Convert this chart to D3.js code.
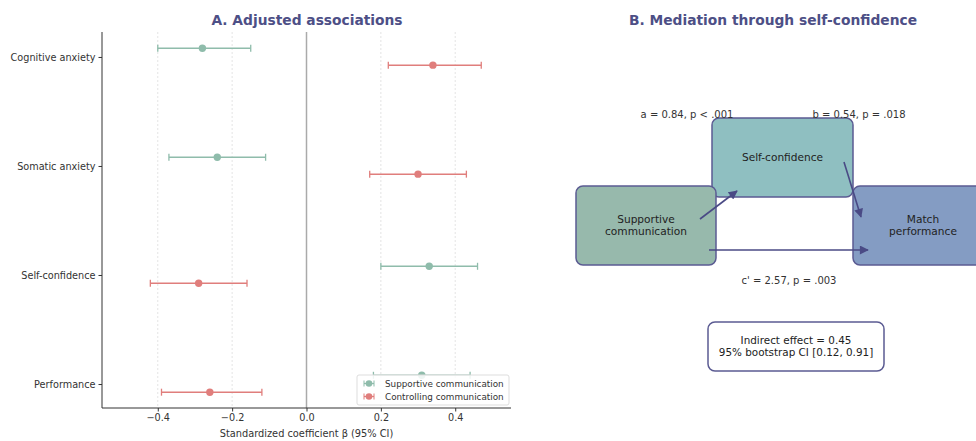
<!DOCTYPE html>
<html lang="en">
<head>
<meta charset="UTF-8">
<title>Adjusted associations and mediation</title>
<style>
  body { margin: 0; background: #fff; }
  svg { font-family: "DejaVu Sans", sans-serif; }
  .axis path, .axis line { stroke: #333; }
  .axis text { font-family: "DejaVu Sans", sans-serif; font-size: 9.7px; fill: #333; }
</style>
</head>
<body>
<svg id="chart"></svg>
<script src="https://cdn.jsdelivr.net/npm/d3@7"></script>
<script>
// data
var outcomes = ["Cognitive anxiety", "Somatic anxiety", "Self-confidence", "Performance"];
var seriesNames = ["Supportive communication", "Controlling communication"];
var supportiveBeta = [-0.28, -0.24, 0.33, 0.31];
var supportiveLow  = [-0.40, -0.37, 0.20, 0.18];
var supportiveHigh = [-0.15, -0.11, 0.46, 0.44];
var controllingBeta = [0.34, 0.30, -0.29, -0.26];
var controllingLow  = [0.22, 0.17, -0.42, -0.39];
var controllingHigh = [0.47, 0.43, -0.16, -0.12];
var xTicks = [-0.4, -0.2, 0.0, 0.2, 0.4];

var pathLabels = ["a = 0.84, p < .001", "b = 0.54, p = .018", "c' = 2.57, p = .003"];
var indirectLines = ["Indirect effect = 0.45", "95% bootstrap CI [0.12, 0.91]"];

var w = 976, h = 441;
var svg = d3.select("#chart").attr("width", w).attr("height", h);

var colors = ["#8fbcab", "#e07e7c"];
var navy = "#4d4f86";

// ---------- Panel A ----------
var padA = {left: 102, right: 511, top: 32, bottom: 408};
var xScale = d3.scaleLinear().domain([-0.55, 0.55]).range([padA.left, padA.right]);
var yScale = d3.scaleLinear().domain([-0.229, 3.22]).range([padA.top, padA.bottom]);
var offset = [-0.08, 0.075];

var gA = svg.append("g");

// grid
gA.selectAll("line.grid")
  .data(xTicks.filter(function(t){ return t !== 0; }))
  .enter().append("line")
  .attr("x1", function(d){ return xScale(d); })
  .attr("x2", function(d){ return xScale(d); })
  .attr("y1", padA.top).attr("y2", padA.bottom)
  .attr("stroke", "#ddd").attr("stroke-width", 0.8)
  .attr("stroke-dasharray", "2,2");

// zero line
gA.append("line")
  .attr("x1", xScale(0)).attr("x2", xScale(0))
  .attr("y1", padA.top).attr("y2", padA.bottom)
  .attr("stroke", "#aaa").attr("stroke-width", 1.5);

var series = [
  {beta: supportiveBeta, low: supportiveLow, high: supportiveHigh},
  {beta: controllingBeta, low: controllingLow, high: controllingHigh}
];

series.forEach(function(s, si) {
  var rows = outcomes.map(function(o, i) {
    return {i: i, beta: s.beta[i], low: s.low[i], high: s.high[i]};
  });
  var g = gA.append("g").attr("stroke", colors[si]).attr("fill", colors[si]);
  var yy = function(d){ return yScale(d.i + offset[si]); };
  g.selectAll("line.ci").data(rows).enter().append("line")
    .attr("x1", function(d){ return xScale(d.low); })
    .attr("x2", function(d){ return xScale(d.high); })
    .attr("y1", yy).attr("y2", yy)
    .attr("stroke-width", 1.5);
  g.selectAll("line.capl").data(rows).enter().append("line")
    .attr("x1", function(d){ return xScale(d.low); })
    .attr("x2", function(d){ return xScale(d.low); })
    .attr("y1", function(d){ return yy(d) - 3.5; })
    .attr("y2", function(d){ return yy(d) + 3.5; })
    .attr("stroke-width", 1.3);
  g.selectAll("line.caph").data(rows).enter().append("line")
    .attr("x1", function(d){ return xScale(d.high); })
    .attr("x2", function(d){ return xScale(d.high); })
    .attr("y1", function(d){ return yy(d) - 3.5; })
    .attr("y2", function(d){ return yy(d) + 3.5; })
    .attr("stroke-width", 1.3);
  g.selectAll("circle").data(rows).enter().append("circle")
    .attr("cx", function(d){ return xScale(d.beta); })
    .attr("cy", yy)
    .attr("r", 3.7)
    .attr("stroke", "none");
});

// axes
var xAxis = d3.axisBottom(xScale).tickValues(xTicks).tickSize(3.5).tickPadding(3)
  .tickFormat(d3.format(".1f"));
gA.append("g").attr("class", "axis")
  .attr("transform", "translate(0," + padA.bottom + ")")
  .call(xAxis)
  .call(function(g){ g.select(".domain").attr("d", "M" + padA.left + ",0H" + padA.right); });

var yAxis = d3.axisLeft(yScale).tickValues([0, 1, 2, 3]).tickSize(3.5).tickPadding(3)
  .tickFormat(function(d){ return outcomes[d]; });
gA.append("g").attr("class", "axis")
  .attr("transform", "translate(" + padA.left + ",0)")
  .call(yAxis)
  .call(function(g){ g.select(".domain").attr("d", "M0," + padA.top + "V" + padA.bottom); });

gA.append("text")
  .attr("x", (padA.left + padA.right) / 2).attr("y", 437)
  .attr("text-anchor", "middle").attr("font-size", "9.8px").attr("fill", "#333")
  .text("Standardized coefficient β (95% CI)");

gA.append("text")
  .attr("x", 307).attr("y", 25)
  .attr("text-anchor", "middle").attr("font-size", "13.8px").attr("font-weight", "bold")
  .attr("fill", navy)
  .text("A. Adjusted associations");

// legend
var leg = gA.append("g").attr("transform", "translate(357,375)");
leg.append("rect").attr("width", 152).attr("height", 30).attr("rx", 2)
  .attr("fill", "#fff").attr("fill-opacity", 0.85).attr("stroke", "#ddd");
seriesNames.forEach(function(name, i) {
  var yy = 8.5 + i * 13;
  var lg = leg.append("g").attr("stroke", colors[i]).attr("fill", colors[i]);
  lg.append("line").attr("x1", 7).attr("x2", 17).attr("y1", yy).attr("y2", yy).attr("stroke-width", 1.3);
  lg.append("line").attr("x1", 7).attr("x2", 7).attr("y1", yy - 3).attr("y2", yy + 3);
  lg.append("line").attr("x1", 17).attr("x2", 17).attr("y1", yy - 3).attr("y2", yy + 3);
  lg.append("circle").attr("cx", 12).attr("cy", yy).attr("r", 3.3).attr("stroke", "none");
  leg.append("text").attr("x", 28).attr("y", yy + 3).attr("font-size", "8.8px").attr("fill", "#333")
    .text(name);
});

// ---------- Panel B ----------
var gB = svg.append("g");
gB.append("text")
  .attr("x", 773).attr("y", 25)
  .attr("text-anchor", "middle").attr("font-size", "13.8px").attr("font-weight", "bold")
  .attr("fill", navy)
  .text("B. Mediation through self-confidence");

var nodes = [
  {lines: ["Self-confidence"], x: 712, y: 118, w: 141, h: 79, fill: "#8fbfc1"},
  {lines: ["Supportive", "communication"], x: 576, y: 186, w: 140, h: 79, fill: "#97b9ac"},
  {lines: ["Match", "performance"], x: 853, y: 186, w: 140, h: 79, fill: "#849cc3"}
];

gB.selectAll("rect.node").data(nodes).enter().append("rect")
  .attr("x", function(d){ return d.x; }).attr("y", function(d){ return d.y; })
  .attr("width", function(d){ return d.w; }).attr("height", function(d){ return d.h; })
  .attr("rx", 7).attr("fill", function(d){ return d.fill; })
  .attr("stroke", "#5b5b92").attr("stroke-width", 1.5);

nodes.forEach(function(d) {
  var t = gB.append("text").attr("text-anchor", "middle").attr("font-size", "10.6px").attr("fill", "#222");
  var cy = d.y + d.h / 2 + 3.5 - (d.lines.length - 1) * 6;
  d.lines.forEach(function(l, i) {
    t.append("tspan").attr("x", d.x + d.w / 2).attr("y", cy + i * 12).text(l);
  });
});

svg.append("defs").append("marker")
  .attr("id", "arrow").attr("viewBox", "0 0 10 10").attr("refX", 9).attr("refY", 5)
  .attr("markerWidth", 10).attr("markerHeight", 9).attr("orient", "auto")
  .attr("markerUnits", "userSpaceOnUse")
  .append("path").attr("d", "M0,0L10,5L0,10z").attr("fill", "#4a4a85");

var arrows = [
  [[700, 219], [737, 191]],
  [[844, 162], [861, 217]],
  [[709, 250], [868, 250]]
];
gB.selectAll("line.arrow").data(arrows).enter().append("line")
  .attr("x1", function(d){ return d[0][0]; }).attr("y1", function(d){ return d[0][1]; })
  .attr("x2", function(d){ return d[1][0]; }).attr("y2", function(d){ return d[1][1]; })
  .attr("stroke", "#4a4a85").attr("stroke-width", 1.6)
  .attr("marker-end", "url(#arrow)");

var labelPos = [[687, 118], [859, 118], [789, 284]];
pathLabels.forEach(function(l, i) {
  gB.append("text").attr("x", labelPos[i][0]).attr("y", labelPos[i][1])
    .attr("text-anchor", "middle").attr("font-size", "10px").attr("fill", "#333").text(l);
});

gB.append("rect").attr("x", 708).attr("y", 322).attr("width", 176).attr("height", 49)
  .attr("rx", 7).attr("fill", "#fff").attr("stroke", "#5b5b92").attr("stroke-width", 1.5);
var it = gB.append("text").attr("text-anchor", "middle").attr("font-size", "10.4px").attr("fill", "#222");
indirectLines.forEach(function(l, i) {
  it.append("tspan").attr("x", 796).attr("y", 344 + i * 12).text(l);
});
</script>
</body>
</html>
